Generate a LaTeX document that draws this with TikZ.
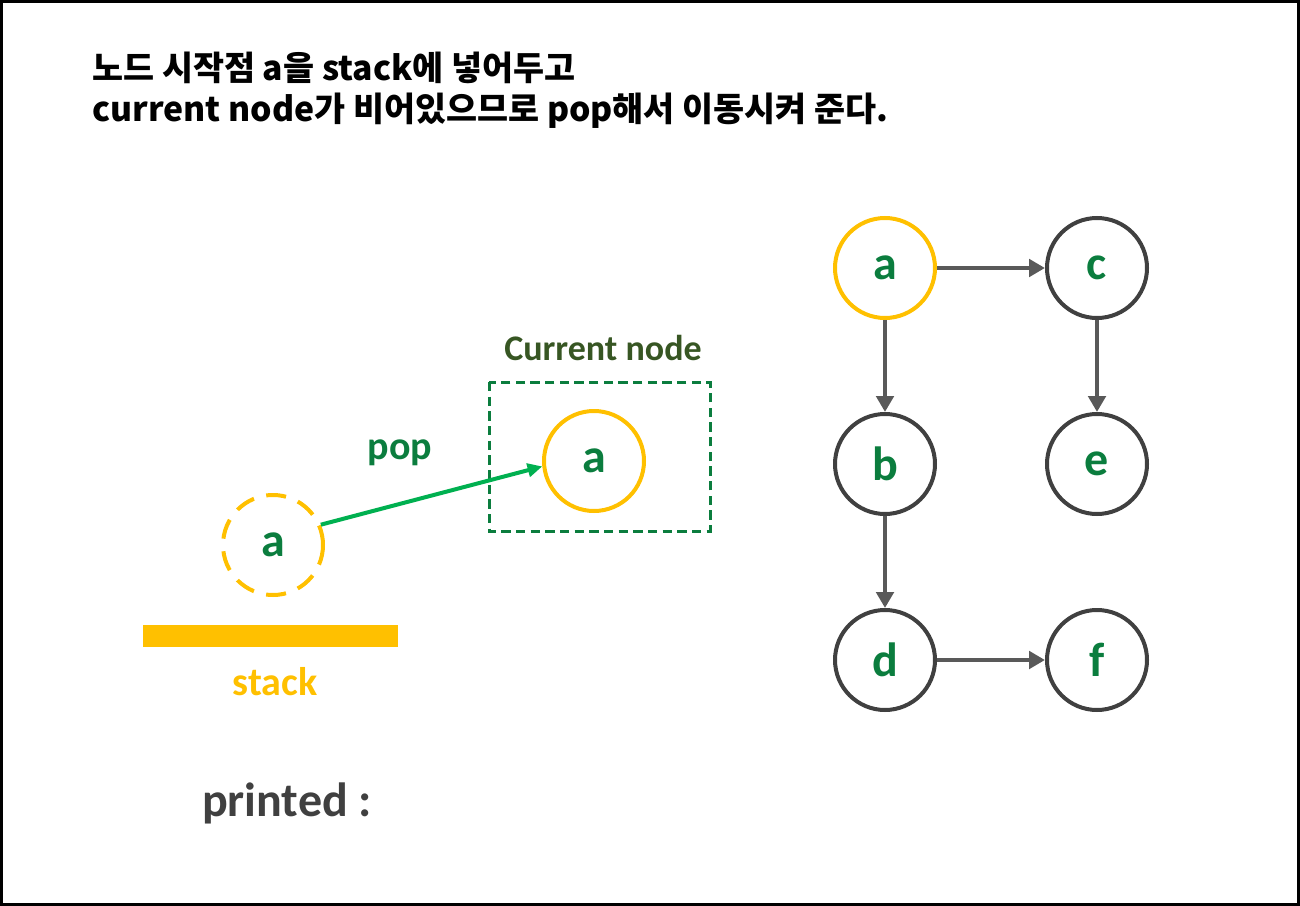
\documentclass[tikz,border=0pt]{standalone}
\usepackage{fontspec}
\usetikzlibrary{arrows.meta}
\newfontfamily\carl{Carlito}
\newfontfamily\krfont{Noto Sans CJK KR}
\definecolor{ylw}{HTML}{FFC000}
\definecolor{lblgreen}{HTML}{0B7D3E}
\definecolor{olive}{HTML}{375623}
\definecolor{arrgreen}{HTML}{00B050}
\definecolor{nodegray}{HTML}{404040}
\definecolor{arrgray}{HTML}{595959}
\definecolor{txtgray}{HTML}{404040}
\tikzset{
  gnode/.style={circle, draw=nodegray, line width=3pt, minimum size=75pt, inner sep=0pt,
     text=lblgreen, font=\carl\bfseries\fontsize{36}{40}\selectfont},
  ynode/.style={gnode, draw=ylw},
  dnode/.style={gnode, draw=ylw, dash pattern=on 15pt off 9.5pt},
  garrow/.style={draw=arrgray, line width=3pt, -{Triangle[length=12pt,width=13pt]}},
  parrow/.style={draw=arrgreen, line width=3pt, -{Triangle[length=11pt,width=10pt]}},
  lbl/.style={font=\carl\bfseries\fontsize{30}{34}\selectfont, inner sep=0pt},
  ttl/.style={font=\krfont\bfseries\fontsize{25.3}{29}\selectfont, inner sep=0pt, anchor=base west},
}
\begin{document}
\begin{tikzpicture}[x=0.75pt,y=-0.75pt]
\useasboundingbox (0,0) rectangle (1300,906);
\draw[line width=2.25pt] (1.5,1.5) rectangle (1298.5,904.5);
% title
\node[ttl] (t1) at (92,80) {노드 시작점 a을 stack에 넣어두고};
\node[ttl] (t2) at (92,122) {current node가 비어있으므로 pop해서 이동시켜 준다.};
% stack
\fill[ylw] (143,625) rectangle (398,647);
\node[lbl, text=ylw] (stk) at (275,682) {stack};
\node[dnode] (da) at (273,545) {a};
% current node
\draw[lblgreen, line width=2.25pt, dash pattern=on 7pt off 4pt] (489,382) rectangle (710,531);
\node[lbl, text=olive, font=\carl\bfseries\fontsize{27}{31}\selectfont] (cn) at (603,348) {Current node};
\node[ynode] (ca) at (594,461) {a};
\node[lbl, text=lblgreen] (pop) at (400,453) {pop};
\draw[parrow] (da.23.7) -- (ca.186.3);
% printed
\node[lbl, text=txtgray, font=\carl\bfseries\fontsize{36}{40}\selectfont] (pr) at (287,803) {printed :};
% graph
\node[ynode] (ga) at (885,268) {a};
\node[gnode] (gc) at (1097,268) {c};
\node[gnode] (gb) at (885,464) {b};
\node[gnode] (ge) at (1097,464) {e};
\node[gnode] (gd) at (885,660) {d};
\node[gnode] (gf) at (1097,660) {f};
\draw[garrow] (ga) -- (gc);
\draw[garrow] (ga) -- (gb);
\draw[garrow] (gc) -- (ge);
\draw[garrow] (gb) -- (gd);
\draw[garrow] (gd) -- (gf);
\end{tikzpicture}
\end{document}
